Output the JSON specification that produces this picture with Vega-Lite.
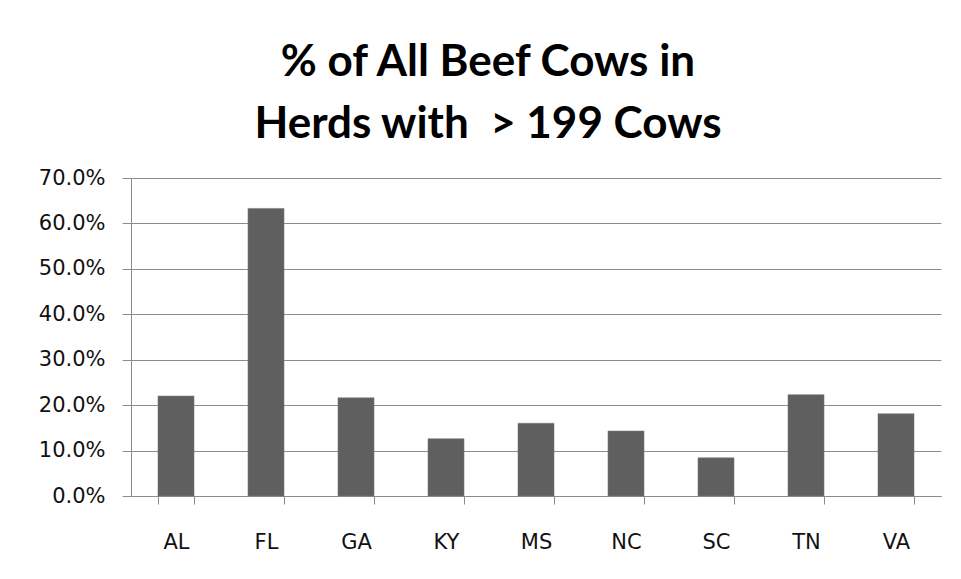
{
  "$schema": "https://vega.github.io/schema/vega-lite/v6.json",
  "width": 810,
  "height": 318,
  "autosize": {"type": "none"},
  "padding": {"left": 131, "top": 178, "right": 20, "bottom": 83},
  "background": "#ffffff",
  "title": {
    "text": ["% of All Beef Cows in", "Herds with \u00a0> 199 Cows"],
    "font": "Lato",
    "fontSize": 44,
    "fontWeight": "bold",
    "color": "#000000",
    "lineHeight": 62,
    "anchor": "middle",
    "dx": -48,
    "offset": 20
  },
  "data": {
    "values": [
      {"state": "AL", "share": 0.220},
      {"state": "FL", "share": 0.633},
      {"state": "GA", "share": 0.216},
      {"state": "KY", "share": 0.126},
      {"state": "MS", "share": 0.160},
      {"state": "NC", "share": 0.143},
      {"state": "SC", "share": 0.084},
      {"state": "TN", "share": 0.223},
      {"state": "VA", "share": 0.181}
    ]
  },
  "mark": {"type": "bar", "color": "#5f5f5f", "stroke": "#7a7a7a", "strokeWidth": 0.6},
  "encoding": {
    "x": {
      "field": "state",
      "type": "nominal",
      "sort": null,
      "scale": {"paddingInner": 0.6, "paddingOuter": 0.3},
      "axis": {
        "title": null,
        "labelAngle": 0,
        "labelFont": "DejaVu Sans",
        "labelFontSize": 21,
        "labelColor": "#111111",
        "labelPadding": 27,
        "tickBand": "extent",
        "tickSize": 8,
        "tickColor": "#8c8c8c",
        "domainColor": "#8c8c8c",
        "grid": false
      }
    },
    "y": {
      "field": "share",
      "type": "quantitative",
      "scale": {"domain": [0, 0.7], "nice": false},
      "axis": {
        "title": null,
        "format": ".1%",
        "values": [0, 0.1, 0.2, 0.3, 0.4, 0.5, 0.6, 0.7],
        "labelFont": "DejaVu Sans",
        "labelFontSize": 21,
        "labelColor": "#111111",
        "labelPadding": 17,
        "tickSize": 9,
        "tickColor": "#8c8c8c",
        "domainColor": "#8c8c8c",
        "grid": true,
        "gridColor": "#8c8c8c",
        "gridOpacity": 1
      }
    }
  },
  "config": {
    "view": {"stroke": null}
  }
}
